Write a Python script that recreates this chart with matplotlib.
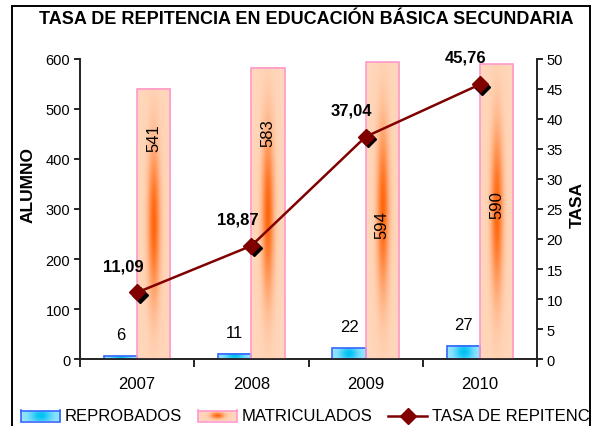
import numpy as np
import matplotlib
matplotlib.use('Agg')
from matplotlib import pyplot as plt
from matplotlib.patches import Rectangle
from matplotlib.lines import Line2D
from matplotlib import transforms

plt.rcParams['font.family'] = ['Liberation Sans', 'DejaVu Sans']

years = ['2007', '2008', '2009', '2010']
reprobados = [6, 11, 22, 27]
matriculados = [541, 583, 594, 590]
tasa = [11.09, 18.87, 37.04, 45.76]

# where the rotated numbers sit inside the orange bars (data units)
mat_label_y = [444, 454, 270, 310]

W, H = 594, 427
fig = plt.figure(figsize=(W / 100, H / 100), dpi=100)

def fx(px):
    return px / W

def fy(py):
    return 1 - py / H

ax = fig.add_axes([fx(80), fy(360), fx(537) - fx(80), fy(60) - fy(360)])
ax2 = ax.twinx()

def gradient(edge, core, sx, sy, cy, w=60, h=200):
    u = np.linspace(-1, 1, w)
    v = np.linspace(0, 1, h)
    U, V = np.meshgrid(u, v)
    I = np.exp(-(U / sx) ** 2) * np.exp(-((V - cy) / sy) ** 2)
    edge = np.array(edge)
    core = np.array(core)
    return edge + I[..., None] * (core - edge)

orange_img = gradient((1.0, 0.84, 0.73), (1.0, 0.40, 0.05), 0.35, 0.28, 0.5)
blue_img = gradient((0.62, 0.90, 1.0), (0.0, 0.76, 0.95), 0.55, 0.7, 0.5)

x = np.arange(len(years))
bw = 0.29
blue_bars = ax.bar(x - bw / 2, reprobados, bw, facecolor='none', edgecolor='#3366ff', linewidth=1.2, zorder=3)
orange_bars = ax.bar(x + bw / 2, matriculados, bw, facecolor='none', edgecolor='#ff99cc', linewidth=1.2, zorder=3)

for b in blue_bars:
    ax.imshow(blue_img, extent=(b.get_x(), b.get_x() + b.get_width(), 0, b.get_height()),
              origin='lower', aspect='auto', zorder=2)
for b in orange_bars:
    ax.imshow(orange_img, extent=(b.get_x(), b.get_x() + b.get_width(), 0, b.get_height()),
              origin='lower', aspect='auto', zorder=2)

for xi, v in zip(x, reprobados):
    ax.annotate(str(v), (xi - bw / 2, v), xytext=(0, 10), textcoords='offset points',
                ha='center', va='bottom', fontsize=12)
for xi, v, ly in zip(x, matriculados, mat_label_y):
    ax.text(xi + bw / 2, ly, str(v), rotation=90, ha='center', va='center', fontsize=12, zorder=5)

ax.set_xlim(-0.5, 3.5)
ax.set_ylim(0, 600)
ax.set_yticks(range(0, 601, 100))
ax.set_xticks(x)
ax.set_xticklabels(years, fontsize=12)
ax.set_xticks(np.arange(-0.5, 4, 1), minor=True)
ax.tick_params(axis='x', which='major', length=0, pad=12)
ax.tick_params(axis='x', which='minor', length=6, width=1.2, direction='out')
ax.tick_params(axis='y', labelsize=10.5, length=4, width=1.2, pad=3)

# line on the right axis, with a dark shadow behind the markers
shadow = transforms.offset_copy(ax2.transData, fig=fig, x=2.5, y=-2.5, units='dots')
ax2.plot(x, tasa, linestyle='none', marker='D', markersize=8.5, color='black',
         transform=shadow, zorder=3)
ax2.plot(x, tasa, color='#800000', linewidth=1.8, marker='D', markersize=8.5,
         markeredgecolor='#800000', zorder=4)
for xi, v in zip(x, tasa):
    ax2.annotate(f'{v:.2f}'.replace('.', ','), (xi, v), xytext=(-10, 14),
                 textcoords='offset points', ha='center', va='bottom',
                 fontsize=12, fontweight='bold')
ax2.set_ylim(0, 50)
ax2.set_yticks(range(0, 51, 5))
ax2.tick_params(axis='y', labelsize=10.5, length=4, width=1.2, pad=3)

for a in (ax, ax2):
    a.spines['top'].set_visible(False)
    for s in ('left', 'right', 'bottom'):
        a.spines[s].set_linewidth(1.2)
        a.spines[s].set_color('#222222')

fig.text(fx(306), fy(20), 'TASA DE REPITENCIA EN EDUCACIÓN BÁSICA SECUNDARIA',
         ha='center', va='center', fontsize=13, fontweight='bold')
fig.text(fx(28), fy(185), 'ALUMNO', rotation=90, ha='center', va='center',
         fontsize=12.5, fontweight='bold')
fig.text(fx(577), fy(205), 'TASA', rotation=90, ha='center', va='center',
         fontsize=12.5, fontweight='bold')

# legend drawn by hand along the bottom
ly = 417
for x0, img, ec, label in [(21, blue_img, '#3366ff', 'REPROBADOS'),
                           (198, orange_img, '#ff99cc', 'MATRICULADOS')]:
    la = fig.add_axes([fx(x0), fy(ly + 5.5), fx(39), 11 / H])
    la.imshow(img, origin='lower', aspect='auto')
    la.set_xticks([])
    la.set_yticks([])
    for s in la.spines.values():
        s.set_color(ec)
        s.set_linewidth(1.2)
    fig.text(fx(x0 + 44), fy(ly), label, ha='left', va='center', fontsize=12)

fig.add_artist(Line2D([fx(388), fx(427)], [fy(ly), fy(ly)], color='#800000', linewidth=1.8))
fig.add_artist(Line2D([fx(407.5)], [fy(ly)], marker='D', markersize=8.5, color='#800000'))
fig.text(fx(432), fy(ly), 'TASA DE REPITENCIA', ha='left', va='center', fontsize=12)

# outer frame, the right edge cuts off the legend text
fig.add_artist(Rectangle((fx(591), 0), 1, 1, facecolor='white', edgecolor='none', zorder=10))
frame = dict(color='black', linewidth=1.4, zorder=11)
fig.add_artist(Line2D([fx(12), fx(12)], [0, fy(7)], **frame))
fig.add_artist(Line2D([fx(12), fx(590)], [fy(7), fy(7)], **frame))
fig.add_artist(Line2D([fx(590), fx(590)], [0, fy(7)], **frame))

fig.savefig('out.png', dpi=100)
